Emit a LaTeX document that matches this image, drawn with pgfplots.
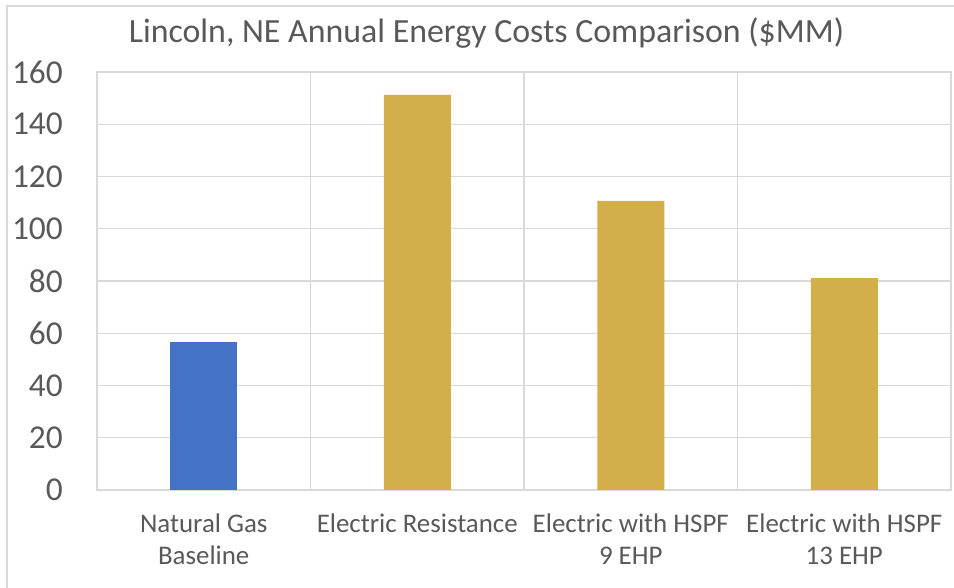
\documentclass[border=0pt]{standalone}
\usepackage{pgfplots}
\pgfplotsset{compat=1.18}
\usepackage{fontspec}
\setmainfont{Carlito}

\definecolor{txtgray}{HTML}{595959}
\definecolor{gridgray}{HTML}{D9D9D9}
\definecolor{barblue}{HTML}{4472C4}
\definecolor{bargold}{HTML}{D2AF4B}

\begin{document}
\begin{tikzpicture}
\path[use as bounding box] (0,0) rectangle (954bp,588bp);
% outer chart frame (only top and left visible)
\draw[gridgray, line width=1.2bp] (7bp,0) -- (7bp,582bp) -- (954bp,582bp);

\node[txtgray, anchor=base, font=\fontsize{34}{38}\selectfont] at (486.5bp,545bp)
  {Lincoln, NE Annual Energy Costs Comparison (\$MM)};

\begin{axis}[
  at={(97bp,98bp)}, anchor=south west,
  scale only axis,
  width=854bp, height=418bp,
  xmin=-0.5, xmax=3.5,
  ymin=0, ymax=160,
  ytick={0,20,...,160},
  xtick={0,1,2,3},
  xticklabels={{Natural Gas\\Baseline},{Electric Resistance},{Electric with HSPF\\9 EHP},{Electric with HSPF\\13 EHP}},
  minor xtick={0.5,1.5,2.5},
  xminorgrids, ymajorgrids,
  major tick length=0pt, minor tick length=0pt,
  grid style={gridgray, line width=1.2bp},
  minor grid style={gridgray, line width=1.2bp},
  axis line style={gridgray, line width=1.2bp},
  /pgf/number format/assume math mode=true,
  yticklabel style={txtgray, font=\fontsize{33.5}{36}\selectfont, inner sep=0pt, anchor=east, xshift=-34bp},
  xticklabel style={txtgray, font=\fontsize{27}{32}\selectfont, align=center, inner sep=0pt, anchor=north, yshift=-24bp},
  ybar, bar width=67bp, bar shift=0pt,
]
\addplot[fill=barblue, draw=none] coordinates {(0,56.6)};
\addplot[fill=bargold, draw=none] coordinates {(1,151.2) (2,110.7) (3,81.1)};
\end{axis}
\end{tikzpicture}
\end{document}
